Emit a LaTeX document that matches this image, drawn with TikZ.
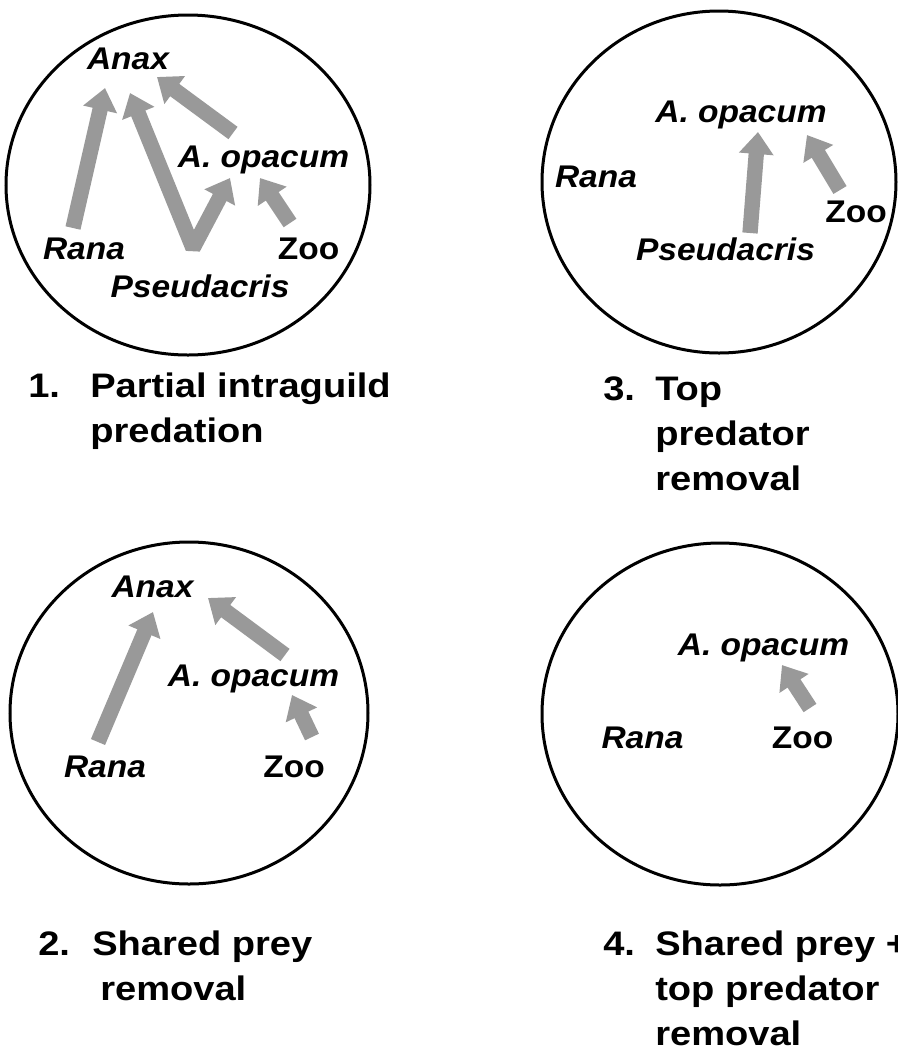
\documentclass[tikz,border=0pt]{standalone}
\usepackage{fontspec}
\setmainfont{Liberation Sans}
\newfontfamily\spfont[FakeStretch=1.07]{Liberation Sans}
\newfontfamily\capfont[FakeStretch=1.12]{Liberation Sans}
\usetikzlibrary{arrows.meta,calc}
\newcommand{\captlines}[1]{\begin{tabular}[t]{@{}l@{}}#1\end{tabular}}
\tikzset{
  ring/.style={draw=black, line width=2.25pt},
  sp/.style={font=\spfont\bfseries\itshape\fontsize{23.5}{28}\selectfont, inner sep=0pt, anchor=base},
  zoo/.style={sp, font=\spfont\bfseries\fontsize{23.5}{28}\selectfont},
  feed/.style={draw=black!40, line width=11.5pt, -{Triangle[length=16.5pt,width=25pt]}},
  feedtwo/.style={feed, {Triangle[length=16.5pt,width=25pt]}-{Triangle[length=16.5pt,width=25pt]}, line join=bevel},
  num/.style={font=\capfont\bfseries\fontsize{25.5}{33.75}\selectfont, inner sep=0pt, anchor=base west},
  caption/.style={num}
}

\begin{document}
\begin{tikzpicture}[x=0.75pt, y=-0.75pt]
\useasboundingbox (0,0) rectangle (898,1051);

% 1. partial intraguild predation
\draw[ring] (188,185) ellipse [x radius=182, y radius=170];
\node[sp] (anax1) at (128,69) {Anax};
\node[sp] (opac1) at (263.5,167) {A. opacum};
\node[sp] (rana1) at (84,259) {Rana};
\node[zoo] (zoo1) at (308.5,259) {Zoo};
\node[sp] (pseu1) at (200,297) {Pseudacris};
\draw[feed] ($(rana1.base)+(-11,-31)$) -- ($(anax1.base)+(-23,19)$);
\draw[feedtwo] ($(anax1.base)+(2,24)$) -- ($(pseu1.base)+(-7,-49)$) -- ($(opac1.base)+(-33.5,11)$);
\draw[feed] ($(opac1.base)+(-30.5,-34)$) -- ($(anax1.base)+(29,8)$);
\draw[feed] ($(zoo1.base)+(-18.5,-36)$) -- ($(opac1.base)+(-3.5,11)$);
\node[num] (n1) at (28,397) {1.};
\node[caption] (c1) at (90,397) {\captlines{Partial intraguild\\predation}};

% 3. top predator removal
\draw[ring] (719,182) ellipse [x radius=177, y radius=171];
\node[sp] (opac3) at (741,122) {A. opacum};
\node[sp] (rana3) at (596,187) {Rana};
\node[zoo] (zoo3) at (856,222) {Zoo};
\node[sp] (pseu3) at (725.5,260) {Pseudacris};
\draw[feed] ($(pseu3.base)+(24.5,-27)$) -- ($(opac3.base)+(17,10)$);
\draw[feed] ($(zoo3.base)+(-16,-32)$) -- ($(opac3.base)+(66,13)$);
\node[num] (n3) at (603,400) {3.};
\node[caption] (c3) at (655,400) {\captlines{Top\\predator\\removal}};

% 2. shared prey removal
\draw[ring] (189,713) ellipse [x radius=179, y radius=171];
\node[sp] (anax2) at (152.5,597) {Anax};
\node[sp] (opac2) at (253.5,686) {A. opacum};
\node[sp] (rana2) at (105,777) {Rana};
\node[zoo] (zoo2) at (294,777) {Zoo};
\draw[feed] ($(rana2.base)+(-7,-35)$) -- ($(anax2.base)+(0.5,15)$);
\draw[feed] ($(opac2.base)+(31.5,-31)$) -- ($(anax2.base)+(55.5,1)$);
\draw[feed] ($(zoo2.base)+(18,-40)$) -- ($(opac2.base)+(38.5,9)$);
\node[num] (n2) at (38,955) {2.};
\node[caption] (c2) at (92,955) {\captlines{Shared prey\\\hspace{6pt}removal}};

% 4. shared prey + top predator removal
\draw[ring] (720,714) ellipse [x radius=178, y radius=171];
\node[sp] (opac4) at (763.5,655) {A. opacum};
\node[sp] (rana4) at (642.5,748) {Rana};
\node[zoo] (zoo4) at (802.5,748) {Zoo};
\draw[feed] ($(zoo4.base)+(7.5,-40)$) -- ($(opac4.base)+(18.5,10)$);
\node[num] (n4) at (603,955) {4.};
\node[caption] (c4) at (655,955) {\captlines{Shared prey +\\top predator\\removal}};
\end{tikzpicture}
\end{document}
